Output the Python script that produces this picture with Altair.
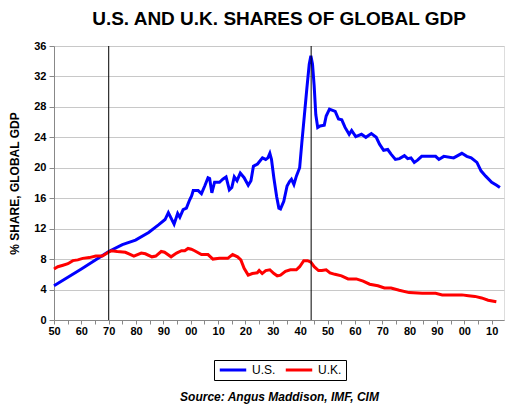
import altair as alt
import pandas as pd

# ---- data ----
us_years = [1850, 1860, 1870, 1875, 1879.8, 1884.6, 1888.2, 1890.6, 1891.8, 1893.9, 1895.2, 1896,
            1897.2, 1898.4, 1899.6, 1900.3, 1900.9, 1902.7, 1903.9, 1905.1, 1906.3, 1906.9, 1907.7,
            1908.7, 1910.5, 1911.7, 1912.9, 1914.1, 1915, 1915.9, 1916.9, 1918.1, 1919.5, 1921, 1922,
            1922.9, 1924.4, 1926.2, 1927.4, 1928.2, 1928.9, 1929.5, 1930.4, 1931.4, 1932.2, 1932.8,
            1934, 1935.2, 1936.1, 1936.8, 1937.7, 1938.6, 1939.8, 1940.6, 1941.5, 1942.4, 1943.3,
            1943.9, 1944.5, 1945.1, 1945.7, 1946.4, 1947.3, 1948.8, 1949.5, 1950.7, 1952.8, 1954,
            1955.2, 1956.4, 1957.9, 1958.8, 1960.3, 1962.4, 1964, 1966, 1967.8, 1969, 1970.5, 1972,
            1973.2, 1974.8, 1976.3, 1978.1, 1979.3, 1980.5, 1981.7, 1982.9, 1984.4, 1989.5, 1990.7,
            1992.5, 1996.1, 1999.1, 2000.9, 2002.5, 2004.6, 2006.1, 2007.8, 2010, 2011.8, 2013]
us_values = [4.5, 6.7, 9.0, 9.9, 10.5, 11.5, 12.5, 13.2, 14.1, 12.6, 14.0, 13.5,
             14.5, 14.7, 15.8, 16.3, 17.0, 17.0, 16.6, 17.6, 18.7, 18.6, 16.7,
             18.1, 18.1, 18.5, 18.8, 17.1, 17.4, 18.8, 18.3, 19.3, 18.7, 17.7, 18.3,
             20.2, 20.5, 21.3, 21.1, 21.3, 21.9, 21.1, 18.6, 16.2, 14.7, 14.6,
             15.6, 17.6, 18.2, 18.5, 17.8, 18.9, 20.0, 23.3, 26.8, 30.3, 33.6,
             34.7, 33.6, 30.8, 27.0, 25.3, 25.5, 25.6, 26.8, 27.7, 27.4, 26.4,
             26.3, 25.3, 24.4, 24.9, 24.1, 24.4, 24.0, 24.5, 24.0, 23.1, 22.3, 22.4,
             21.8, 21.1, 21.2, 21.6, 21.2, 21.3, 20.7, 21.0, 21.5, 21.5, 21.1,
             21.5, 21.3, 21.9, 21.5, 21.3, 20.7, 19.6, 18.9, 18.1, 17.7, 17.4]

uk_years = [1850, 1851.4, 1853.3, 1855.1, 1856.9, 1858.7, 1860.5, 1862.9, 1865.3, 1867.7, 1869.9,
            1871.1, 1873.1, 1876.1, 1879.2, 1881.9, 1883.4, 1885.8, 1887.2, 1889.2, 1890.4, 1892.8,
            1894.8, 1896.6, 1897.8, 1899, 1900.2, 1901.4, 1903.9, 1906.3, 1908.1, 1910.5, 1913.5,
            1915.3, 1917.1, 1918.3, 1919.5, 1921, 1922.5, 1924.3, 1925, 1926.1, 1927.4, 1928.9,
            1930.4, 1931.6, 1932.8, 1934.6, 1936.4, 1938.6, 1939.8, 1941.3, 1942.7, 1943.9, 1945.1,
            1946.7, 1947.9, 1949.5, 1950.9, 1952.7, 1955.1, 1957.5, 1960.5, 1963, 1965.4, 1968.4,
            1970.8, 1973.2, 1976.2, 1979.8, 1984.6, 1989.5, 1991.9, 1994.3, 1999.1, 2001.5, 2003.9,
            2006.3, 2008.7, 2011.7]
uk_values = [6.7, 7.0, 7.2, 7.4, 7.8, 7.9, 8.1, 8.2, 8.4, 8.4, 8.9,
             9.1, 9.0, 8.9, 8.4, 8.8, 8.7, 8.3, 8.4, 9.0, 8.9, 8.3,
             8.8, 9.1, 9.1, 9.4, 9.3, 9.1, 8.6, 8.6, 8.0, 8.1, 8.1,
             8.6, 8.3, 7.9, 6.8, 5.9, 6.1, 6.2, 6.5, 6.1, 6.5, 6.6,
             6.1, 5.8, 5.9, 6.4, 6.6, 6.6, 7.0, 7.8, 7.8, 7.6, 7.0,
             6.5, 6.5, 6.6, 6.2, 6.0, 5.8, 5.4, 5.4, 5.1, 4.7, 4.5,
             4.2, 4.2, 3.9, 3.6, 3.5, 3.5, 3.3, 3.3, 3.3, 3.2, 3.1,
             2.9, 2.6, 2.4]

series_names = ["U.S.", "U.K."]
series_colors = ["#0000FF", "#FF0000"]
x_tick_values = list(range(1850, 2011, 5))
y_tick_values = list(range(0, 37, 4))
event_years = [1870, 1944]

FONT = "Liberation Sans"

df = pd.concat([
    pd.DataFrame({"year": us_years, "share": us_values, "country": "U.S."}),
    pd.DataFrame({"year": uk_years, "share": uk_values, "country": "U.K."}),
], ignore_index=True)
events = pd.DataFrame({"year": event_years})

x_enc = alt.X(
    "year:Q",
    scale=alt.Scale(domain=[1850, 2014.5], nice=False, zero=False),
    axis=alt.Axis(
        values=x_tick_values,
        labelExpr="datum.value % 10 == 0 ? substring(toString(datum.value), 2, 4) : ''",
        labelFlush=False,
        labelOverlap=False,
        grid=False,
        tickSize=4,
        labelPadding=1,
        labelFont=FONT, labelFontSize=11, labelFontWeight="bold", labelColor="black",
        title="Source:  Angus Maddison, IMF, CIM",
        titleFont=FONT, titleFontSize=12, titleFontWeight="bold", titleFontStyle="italic",
        titleColor="black", titlePadding=55,
    ),
)
y_enc = alt.Y(
    "share:Q",
    scale=alt.Scale(domain=[0, 36], nice=False),
    axis=alt.Axis(
        values=y_tick_values,
        grid=True, gridColor="#C8C8C8", gridWidth=1,
        tickSize=5, labelPadding=3,
        labelFont=FONT, labelFontSize=11, labelFontWeight="bold", labelColor="black",
        title="% SHARE, GLOBAL GDP",
        titleFont=FONT, titleFontSize=12, titleFontWeight="bold", titleColor="black",
        titlePadding=12,
    ),
)

lines = alt.Chart(df).mark_line(strokeWidth=3).encode(
    x=x_enc,
    y=y_enc,
    color=alt.Color(
        "country:N",
        scale=alt.Scale(domain=series_names, range=series_colors),
        legend=alt.Legend(
            title=None, orient="none", legendX=160, legendY=314,
            direction="horizontal",
            symbolType="stroke", symbolStrokeWidth=3, symbolSize=700,
            clipHeight=12,
            labelFont=FONT, labelFontSize=12, labelColor="black",
            labelOffset=4, columnPadding=8,
            strokeColor="black", fillColor="white", padding=4,
        ),
    ),
    detail="country:N",
)

rules = alt.Chart(events).mark_rule(color="black", strokeWidth=1).encode(x=x_enc)

chart = alt.layer(lines, rules).properties(
    width=450,
    height=274,
    autosize=alt.AutoSizeParams(type="none"),
    padding={"left": 46, "top": 38, "right": 1, "bottom": 87},
    title=alt.TitleParams(
        "U.S. AND U.K. SHARES OF GLOBAL GDP",
        font=FONT, fontSize=19, fontWeight="bold", color="black",
        anchor="middle", offset=11,
    ),
).configure_view(
    stroke="black", strokeWidth=1,
).configure_axis(
    domainColor="black", tickColor="black",
).configure(background="white")

chart.save("out.html", embed_options={"renderer": "svg", "actions": False})
